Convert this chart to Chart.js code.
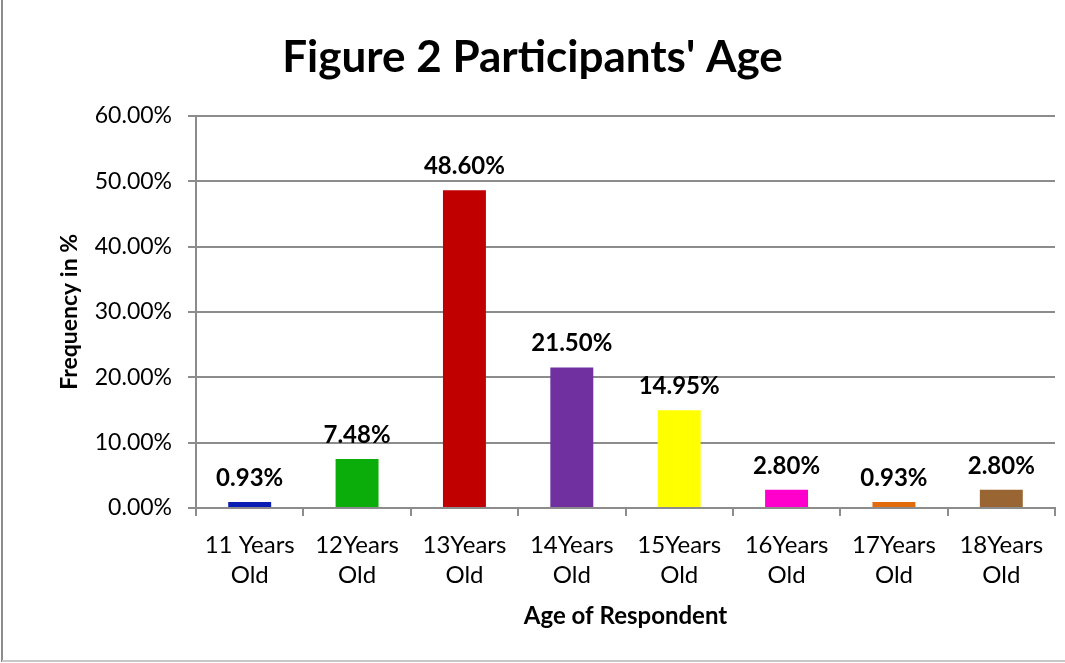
<!DOCTYPE html>
<html>
<head>
<meta charset="utf-8">
<script src="https://cdn.jsdelivr.net/npm/chart.js@4.4.1/dist/chart.umd.min.js"></script>
<style>
  html, body { margin: 0; padding: 0; background: #fff; }
</style>
</head>
<body>
<canvas id="ageChart" width="1065" height="663"></canvas>
<script>
// --- DATA ---
const categories = [
    ['11 Years', 'Old'], ['12Years', 'Old'], ['13Years', 'Old'], ['14Years', 'Old'],
    ['15Years', 'Old'], ['16Years', 'Old'], ['17Years', 'Old'], ['18Years', 'Old']
];
const frequencies = [0.93, 7.48, 48.60, 21.50, 14.95, 2.80, 0.93, 2.80];
const barColors = ['#0A1EB4', '#0AAD0A', '#C00000', '#7030A0', '#FFFF00', '#FF00CC', '#E36C0A', '#996633'];
const yTicks = [0, 10, 20, 30, 40, 50, 60];

const FONT = 'Lato, "Open Sans", sans-serif';

// Draws the bold value labels above each bar
const valueLabels = {
    id: 'valueLabels',
    afterDatasetsDraw(chart) {
        const ctx = chart.ctx;
        const meta = chart.getDatasetMeta(0);
        ctx.save();
        ctx.font = 'bold 24px ' + FONT;
        ctx.fillStyle = '#000';
        ctx.textAlign = 'center';
        ctx.textBaseline = 'alphabetic';
        meta.data.forEach((bar, i) => {
            ctx.fillText(frequencies[i].toFixed(2) + '%', bar.x, bar.y - 16);
        });
        ctx.restore();
    }
};

// Outer frame lines (left and bottom edges)
const frame = {
    id: 'frame',
    beforeDraw(chart) {
        const ctx = chart.ctx;
        ctx.save();
        ctx.strokeStyle = '#8c8c8c';
        ctx.lineWidth = 2;
        ctx.beginPath();
        ctx.moveTo(2, 0);
        ctx.lineTo(2, 662);
        ctx.stroke();
        ctx.strokeStyle = '#c8c8c8';
        ctx.beginPath();
        ctx.moveTo(2, 661);
        ctx.lineTo(1065, 661);
        ctx.stroke();
        ctx.restore();
    }
};

const ctx = document.getElementById('ageChart').getContext('2d');
new Chart(ctx, {
    type: 'bar',
    data: {
        labels: categories,
        datasets: [{
            data: frequencies,
            backgroundColor: barColors,
            borderWidth: 0,
            barPercentage: 0.4,
            categoryPercentage: 1.0
        }]
    },
    options: {
        responsive: false,
        animation: false,
        layout: { padding: { left: 10, right: 10, top: 0, bottom: 18 } },
        plugins: {
            legend: { display: false },
            tooltip: { enabled: false },
            title: {
                display: true,
                text: "Figure 2 Participants' Age",
                color: '#000',
                font: { family: FONT, size: 44, weight: 'bold' },
                padding: { top: 31, bottom: 32 }
            }
        },
        scales: {
            x: {
                afterFit(scale) { scale.height = 663 - 508 - 18; },
                grid: {
                    offset: true,
                    drawOnChartArea: false,
                    drawTicks: true,
                    tickLength: 8,
                    color: '#8c8c8c',
                    lineWidth: 2
                },
                border: { color: '#8c8c8c', width: 2 },
                ticks: {
                    color: '#000',
                    font: { family: FONT, size: 24, lineHeight: 1.25 },
                    padding: 14,
                    maxRotation: 0,
                    autoSkip: false
                },
                title: {
                    display: true,
                    text: 'Age of Respondent',
                    color: '#000',
                    font: { family: FONT, size: 24, weight: 'bold' },
                    padding: { top: 8, bottom: 14 }
                }
            },
            y: {
                min: 0,
                max: 60,
                afterFit(scale) { scale.width = 196 - 10; },
                afterBuildTicks(scale) {
                    scale.ticks = yTicks.map(v => ({ value: v }));
                },
                grid: {
                    color: '#8c8c8c',
                    lineWidth: 2,
                    tickLength: 8
                },
                border: { color: '#8c8c8c', width: 2 },
                ticks: {
                    color: '#000',
                    font: { family: FONT, size: 23 },
                    padding: 16,
                    callback: v => v.toFixed(2) + '%'
                },
                title: {
                    display: true,
                    text: 'Frequency in %',
                    color: '#000',
                    font: { family: FONT, size: 23, weight: 'bold' },
                    padding: { top: 46, bottom: 0 }
                }
            }
        }
    },
    plugins: [valueLabels, frame]
});
</script>
</body>
</html>
